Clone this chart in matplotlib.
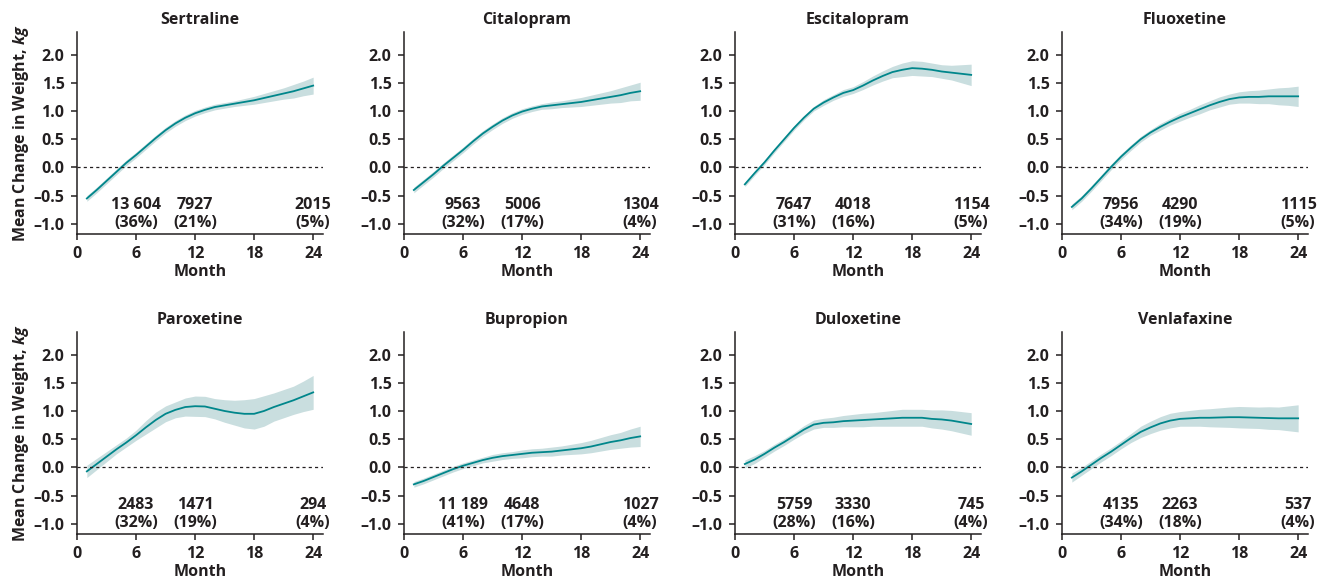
import matplotlib
matplotlib.use("Agg")
import matplotlib.pyplot as plt
import numpy as np

plt.rcParams['font.family'] = ['Open Sans', 'DejaVu Sans']
plt.rcParams['mathtext.fontset'] = 'custom'
plt.rcParams['mathtext.it'] = 'Open Sans:italic:bold'
plt.rcParams['mathtext.rm'] = 'Open Sans:bold'

months = list(range(1, 25))

drugs = ["Sertraline", "Citalopram", "Escitalopram", "Fluoxetine",
         "Paroxetine", "Bupropion", "Duloxetine", "Venlafaxine"]

# mean change in weight (kg) and half-width of the 95% band, months 1..24
sertraline_mean = [-0.55, -0.40, -0.24, -0.08, 0.08, 0.22, 0.37, 0.52, 0.66, 0.78, 0.88, 0.96,
                   1.02, 1.07, 1.10, 1.13, 1.16, 1.19, 1.23, 1.27, 1.31, 1.35, 1.40, 1.45]
sertraline_ci = [0.05, 0.05, 0.05, 0.05, 0.05, 0.05, 0.05, 0.05, 0.05, 0.05, 0.05, 0.05,
                 0.05, 0.05, 0.05, 0.05, 0.06, 0.07, 0.08, 0.09, 0.10, 0.12, 0.13, 0.15]
citalopram_mean = [-0.40, -0.26, -0.12, 0.03, 0.17, 0.31, 0.46, 0.60, 0.72, 0.83, 0.92, 0.99,
                   1.04, 1.08, 1.10, 1.12, 1.14, 1.16, 1.19, 1.22, 1.25, 1.28, 1.32, 1.35]
citalopram_ci = [0.05, 0.05, 0.05, 0.05, 0.05, 0.05, 0.05, 0.05, 0.05, 0.05, 0.05, 0.05,
                 0.05, 0.05, 0.06, 0.06, 0.07, 0.08, 0.09, 0.10, 0.11, 0.13, 0.14, 0.16]
escitalopram_mean = [-0.30, -0.10, 0.09, 0.30, 0.50, 0.70, 0.88, 1.04, 1.15, 1.24, 1.32, 1.37,
                     1.45, 1.54, 1.62, 1.69, 1.73, 1.76, 1.75, 1.73, 1.70, 1.68, 1.66, 1.64]
escitalopram_ci = [0.04, 0.04, 0.04, 0.04, 0.04, 0.04, 0.04, 0.04, 0.05, 0.05, 0.06, 0.06,
                   0.07, 0.08, 0.09, 0.10, 0.12, 0.13, 0.13, 0.12, 0.12, 0.13, 0.16, 0.19]
fluoxetine_mean = [-0.70, -0.55, -0.37, -0.18, 0.01, 0.19, 0.35, 0.50, 0.62, 0.72, 0.81, 0.89,
                   0.96, 1.03, 1.10, 1.16, 1.21, 1.24, 1.25, 1.25, 1.26, 1.26, 1.26, 1.26]
fluoxetine_ci = [0.05, 0.05, 0.05, 0.05, 0.05, 0.05, 0.05, 0.05, 0.05, 0.06, 0.06, 0.07,
                 0.07, 0.08, 0.08, 0.09, 0.09, 0.10, 0.11, 0.12, 0.13, 0.15, 0.16, 0.18]
paroxetine_mean = [-0.07, 0.06, 0.19, 0.32, 0.44, 0.57, 0.71, 0.84, 0.95, 1.02, 1.07, 1.085,
                   1.08, 1.04, 1.00, 0.97, 0.95, 0.95, 1.00, 1.07, 1.13, 1.19, 1.26, 1.33]
paroxetine_ci = [0.11, 0.10, 0.09, 0.08, 0.08, 0.09, 0.12, 0.14, 0.14, 0.14, 0.16, 0.18,
                 0.18, 0.18, 0.20, 0.22, 0.25, 0.27, 0.27, 0.25, 0.25, 0.25, 0.27, 0.30]
bupropion_mean = [-0.30, -0.24, -0.17, -0.10, -0.03, 0.03, 0.08, 0.13, 0.17, 0.20, 0.22, 0.24,
                  0.26, 0.27, 0.28, 0.30, 0.32, 0.34, 0.37, 0.41, 0.45, 0.48, 0.52, 0.55]
bupropion_ci = [0.05, 0.05, 0.05, 0.05, 0.05, 0.05, 0.05, 0.05, 0.06, 0.06, 0.06, 0.07,
                0.07, 0.07, 0.08, 0.08, 0.09, 0.10, 0.11, 0.12, 0.13, 0.14, 0.16, 0.18]
duloxetine_mean = [0.06, 0.14, 0.24, 0.35, 0.45, 0.56, 0.67, 0.76, 0.79, 0.80, 0.82, 0.83,
                   0.84, 0.85, 0.86, 0.87, 0.88, 0.88, 0.88, 0.86, 0.85, 0.83, 0.80, 0.77]
duloxetine_ci = [0.07, 0.07, 0.06, 0.06, 0.06, 0.06, 0.07, 0.08, 0.08, 0.09, 0.10, 0.11,
                 0.12, 0.12, 0.13, 0.14, 0.15, 0.15, 0.15, 0.16, 0.17, 0.18, 0.19, 0.20]
venlafaxine_mean = [-0.18, -0.07, 0.05, 0.17, 0.28, 0.40, 0.52, 0.63, 0.71, 0.78, 0.83, 0.86,
                    0.87, 0.88, 0.88, 0.885, 0.89, 0.89, 0.885, 0.88, 0.875, 0.87, 0.87, 0.87]
venlafaxine_ci = [0.08, 0.07, 0.07, 0.07, 0.07, 0.07, 0.08, 0.10, 0.11, 0.12, 0.13, 0.13,
                  0.14, 0.15, 0.16, 0.17, 0.18, 0.19, 0.19, 0.19, 0.20, 0.20, 0.22, 0.24]

# patients remaining at months 6, 12 and 24
count_months = [6, 12, 24]
sertraline_n = [("13 604", "36%"), ("7927", "21%"), ("2015", "5%")]
citalopram_n = [("9563", "32%"), ("5006", "17%"), ("1304", "4%")]
escitalopram_n = [("7647", "31%"), ("4018", "16%"), ("1154", "5%")]
fluoxetine_n = [("7956", "34%"), ("4290", "19%"), ("1115", "5%")]
paroxetine_n = [("2483", "32%"), ("1471", "19%"), ("294", "4%")]
bupropion_n = [("11 189", "41%"), ("4648", "17%"), ("1027", "4%")]
duloxetine_n = [("5759", "28%"), ("3330", "16%"), ("745", "4%")]
venlafaxine_n = [("4135", "34%"), ("2263", "18%"), ("537", "4%")]

means = [sertraline_mean, citalopram_mean, escitalopram_mean, fluoxetine_mean,
         paroxetine_mean, bupropion_mean, duloxetine_mean, venlafaxine_mean]
cis = [sertraline_ci, citalopram_ci, escitalopram_ci, fluoxetine_ci,
       paroxetine_ci, bupropion_ci, duloxetine_ci, venlafaxine_ci]
counts = [sertraline_n, citalopram_n, escitalopram_n, fluoxetine_n,
          paroxetine_n, bupropion_n, duloxetine_n, venlafaxine_n]

line_color = '#00868b'
band_color = '#c9dedf'
text_color = '#231f20'
fs = 11.5

W, H = 1331, 582
fig = plt.figure(figsize=(W / 100, H / 100), dpi=100)

col_left = [77, 404, 735, 1062]
row_top = [32, 332]
ax_w, ax_h = 246, 202

for k, name in enumerate(drugs):
    r, c = divmod(k, 4)
    ax = fig.add_axes([col_left[c] / W, 1 - (row_top[r] + ax_h) / H, ax_w / W, ax_h / H])
    m = np.array(means[k])
    ci = np.array(cis[k])
    ax.fill_between(months, m - ci, m + ci, color=band_color, lw=0)
    ax.plot(months, m, color=line_color, lw=1.3)
    ax.axhline(0, color=text_color, lw=0.9, ls=(0, (2.5, 2.5)))

    ax.set_xlim(0, 25)
    ax.set_ylim(-1.18, 2.4)
    ax.set_xticks([0, 6, 12, 18, 24])
    yt = [-1.0, -0.5, 0.0, 0.5, 1.0, 1.5, 2.0]
    ax.set_yticks(yt)
    ax.set_yticklabels([f"{v:.1f}".replace('-', '\u2013') for v in yt])
    for s in ['top', 'right']:
        ax.spines[s].set_visible(False)
    for s in ['left', 'bottom']:
        ax.spines[s].set_color(text_color)
        ax.spines[s].set_linewidth(1.1)
    ax.tick_params(direction='out', length=4.5, width=1.1, colors=text_color,
                   labelsize=fs, pad=4.5)
    for lab in ax.get_xticklabels() + ax.get_yticklabels():
        lab.set_fontweight('bold')

    ax.set_title(name, fontsize=fs, fontweight='bold', color=text_color, pad=6)
    ax.set_xlabel("Month", fontsize=fs, fontweight='bold', color=text_color, labelpad=1)
    if c == 0:
        ax.set_ylabel("Mean Change in Weight, $\\it{kg}$", fontsize=fs,
                      fontweight='bold', color=text_color, labelpad=2)

    for mx, (n, pct) in zip(count_months, counts[k]):
        ax.text(mx, -0.66, n, ha='center', va='center', fontsize=fs,
                fontweight='bold', color=text_color)
        ax.text(mx, -0.99, f"({pct})", ha='center', va='center', fontsize=fs,
                fontweight='bold', color=text_color)

fig.savefig("out.png", dpi=100)
